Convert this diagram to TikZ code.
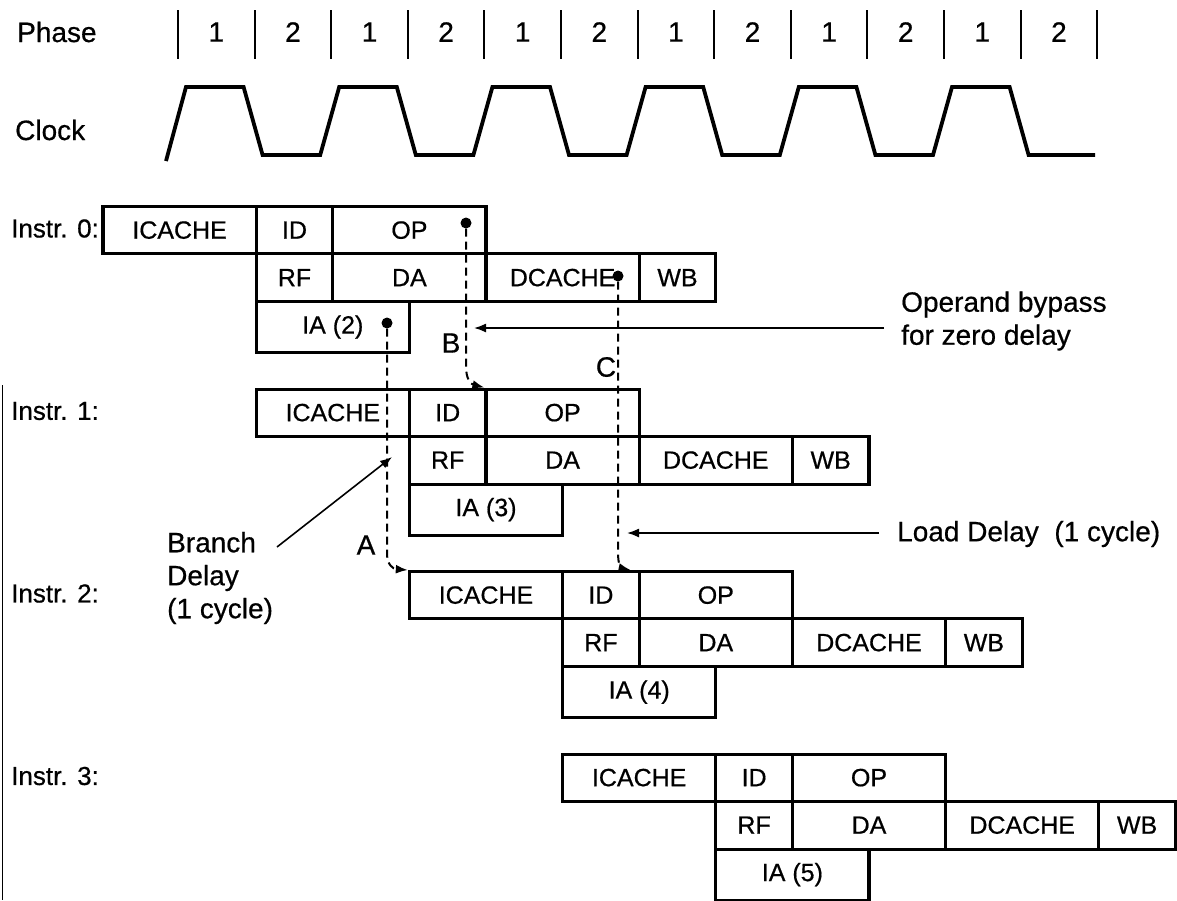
\documentclass[tikz,border=0pt]{standalone}
\usepackage{fontspec}
\setmainfont{Liberation Sans}[FakeBold=0.6]
\usetikzlibrary{arrows.meta,calc}
\newcommand\boxfont{\fontsize{25}{29}\selectfont}
\newcommand\lblfont{\fontsize{28}{33}\selectfont}
\newcommand\insfont{\fontsize{26}{30}\selectfont}
\begin{document}
\begin{tikzpicture}[x=1pt,y=-1pt,
  cell/.style={draw, line width=3.2pt, inner sep=0pt, anchor=north west, font=\boxfont},
  lbl/.style={font=\lblfont, inner sep=0pt},
  ins/.style={font=\insfont, inner sep=0pt, anchor=west},
  ticks/.style={line width=2pt},
  clk/.style={line width=3.8pt, line join=miter},
  bdot/.style={circle, fill, inner sep=0pt, minimum size=11pt},
  arr/.style={line width=1.6pt, -{Latex[length=12pt,width=9pt]}},
  darr/.style={line width=2pt, dash pattern=on 8pt off 5pt, -{Latex[length=12pt,width=9pt]}},
]
\useasboundingbox (0,0) rectangle (1177,900);
\def\P{76.6}
% phase row
\node[lbl, anchor=west] (phase) at (17,32) {Phase};
\node[lbl, anchor=west] (clock) at (15,130) {Clock};
\foreach \j in {0,...,12} \draw[ticks] ({178+\P*\j},10) -- ({178+\P*\j},59);
\foreach \j in {0,...,11} {
  \pgfmathtruncatemacro\ph{mod(\j,2)+1}
  \node[lbl] (ph\j) at ({178+\P*(\j+0.5)},32) {\ph};
}
% clock
\draw[clk] (166,161) -- (186,87) -- (243.6,87) -- (262.6,155)
  -- (320.2,155) -- (339.2,87) -- (396.8,87) -- (415.8,155)
  -- (473.4,155) -- (492.4,87) -- (550,87) -- (569,155)
  -- (626.6,155) -- (645.6,87) -- (703.2,87) -- (722.2,155)
  -- (779.8,155) -- (798.8,87) -- (856.4,87) -- (875.4,155)
  -- (933,155) -- (952,87) -- (1009.6,87) -- (1028.6,155) -- (1095,155);
% instructions
\foreach \k/\n in {0/2,1/3,2/4,3/5}{
  \pgfmathsetmacro\sx{101.4+2*\P*\k}
  \pgfmathsetmacro\ty{205+182.5*\k}
  \pgfmathsetmacro\wone{\P}
  \pgfmathsetmacro\wtwo{2*\P}
  \node[ins] (lab\k) at (11,{\ty+23.5}) {Instr. \k:};
  \node[cell, minimum width=\wtwo pt, minimum height=47pt] (ic\k) at (\sx,\ty) {ICACHE};
  \node[cell, minimum width=\wone pt, minimum height=47pt] (id\k) at ({\sx+2*\P},\ty) {ID};
  \node[cell, minimum width=\wtwo pt, minimum height=47pt] (op\k) at ({\sx+3*\P},\ty) {OP};
  \node[cell, minimum width=\wone pt, minimum height=48pt] (rf\k) at ({\sx+2*\P},{\ty+47}) {RF};
  \node[cell, minimum width=\wtwo pt, minimum height=48pt] (da\k) at ({\sx+3*\P},{\ty+47}) {DA};
  \node[cell, minimum width=\wtwo pt, minimum height=48pt] (dc\k) at ({\sx+5*\P},{\ty+47}) {DCACHE};
  \node[cell, minimum width=\wone pt, minimum height=48pt] (wb\k) at ({\sx+7*\P},{\ty+47}) {WB};
  \node[cell, minimum width=\wtwo pt, minimum height=51pt] (ia\k) at ({\sx+2*\P},{\ty+95}) {IA (\n)};
}
% dots
\node[bdot] (dB) at (466,223) {};
\node[bdot] (dC) at (618,276) {};
\node[bdot] (dA) at (387,323) {};
% dashed bypass paths
\draw[darr] (dB) -- (466,366) .. controls (466,378) and (470,384) .. (op1.north west);
\draw[darr] (dA) -- (387,553) .. controls (387,565) and (393,569) .. (ic2.north west);
\draw[darr] (dC) -- (618,553) .. controls (618,564) and (621,568) .. ([xshift=-7pt]op2.north west);
\node[lbl] (lB) at (451,343) {B};
\node[lbl] (lC) at (606,367) {C};
\node[lbl] (lA) at (366,545) {A};
% annotations
\node[lbl, anchor=west, align=left] (opb) at (901,321) {Operand bypass\\for zero delay};
\coordinate (opbS) at (884,328);
\coordinate (opbE) at (474,328);
\draw[arr] (opbS) -- (opbE);
\node[lbl, anchor=west] (ld) at (897,534) {Load Delay\ \ (1 cycle)};
\coordinate (ldS) at (879,533);
\coordinate (ldE) at (627,533);
\draw[arr] (ldS) -- (ldE);
\node[lbl, anchor=west, align=left] (br) at (167,578) {Branch\\Delay\\(1 cycle)};
\coordinate (brS) at (277,547);
\coordinate (brE) at (392,457);
\draw[arr] (brS) -- (brE);
% page edge
\draw[line width=1pt] (2,385) -- (2,900);
\end{tikzpicture}
\end{document}
